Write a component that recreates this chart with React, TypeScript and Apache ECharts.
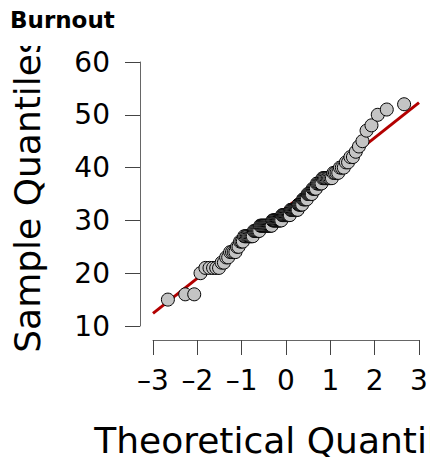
import React, { useEffect, useRef } from "react";
import * as echarts from "echarts";

const chartTitle = "Burnout";
const xAxisName = "Theoretical Quantiles";
const yAxisName = "Sample Quantiles";

const xTicks = [-3, -2, -1, 0, 1, 2, 3];
const yTicks = [10, 20, 30, 40, 50, 60];

// theoretical quantiles (x) of each point
const theoretical = [
  -2.664, -2.273, -2.07, -1.928, -1.817, -1.725, -1.645, -1.574, -1.51, -1.453,
  -1.4, -1.35, -1.304, -1.26, -1.218, -1.179, -1.141, -1.105, -1.07, -1.036,
  -1.004, -0.973, -0.942, -0.913, -0.883, -0.856, -0.828, -0.801, -0.775, -0.749,
  -0.724, -0.699, -0.674, -0.65, -0.627, -0.603, -0.581, -0.558, -0.536, -0.513,
  -0.491, -0.47, -0.448, -0.427, -0.406, -0.385, -0.365, -0.344, -0.324, -0.303,
  -0.283, -0.263, -0.243, -0.224, -0.204, -0.184, -0.165, -0.145, -0.126, -0.106,
  -0.087, -0.068, -0.048, -0.029, -0.01,
  0.01, 0.029, 0.048, 0.068, 0.087, 0.106, 0.126, 0.145, 0.165, 0.184,
  0.204, 0.224, 0.243, 0.263, 0.283, 0.303, 0.324, 0.344, 0.365, 0.385,
  0.406, 0.427, 0.448, 0.47, 0.491, 0.513, 0.536, 0.558, 0.581, 0.603,
  0.627, 0.65, 0.674, 0.699, 0.724, 0.749, 0.775, 0.801, 0.828, 0.856,
  0.883, 0.913, 0.942, 0.973, 1.004, 1.036, 1.07, 1.105, 1.141, 1.179,
  1.218, 1.26, 1.304, 1.35, 1.4, 1.453, 1.51, 1.574, 1.645, 1.725,
  1.817, 1.928, 2.07, 2.273, 2.664,
];

// sample quantiles (y)
const sample = [
  15, 16, 16, 20, 21, 21, 21, 21, 21, 22,
  22, 23, 23, 24, 24, 24, 24, 25, 25, 26,
  26, 26, 27, 27, 27, 27, 27, 27, 27, 27,
  28, 28, 28, 28, 28, 28, 29, 29, 29, 29,
  29, 29, 29, 29, 29, 29, 29, 29, 29, 30,
  30, 30, 30, 30, 30, 30, 30, 30, 30, 30,
  31, 31, 31, 31, 31, 31, 31, 31, 31, 31,
  32, 32, 32, 32, 32, 32, 32, 32, 32, 33,
  33, 33, 33, 33, 34, 34, 34, 34, 34, 35,
  35, 35, 35, 35, 36, 36, 36, 36, 37, 37,
  37, 37, 37, 38, 38, 38, 38, 38, 38, 38,
  38, 39, 39, 39, 39, 40, 40, 40, 41, 41,
  42, 42, 43, 44, 45, 47, 48, 50, 51, 52,
];

// reference line end points
const lineX = [-3, 3];
const lineY = [12.4, 52.3];

const FONT = "DejaVu Sans";

export default function App() {
  const ref = useRef<HTMLDivElement>(null);
  useEffect(() => {
    document.body.style.margin = "0";
    if (!ref.current) return;
    const chart = echarts.init(ref.current, undefined, { renderer: "svg" });
    const points = theoretical.map((x, i) => [x, sample[i]]);
    const lineData = lineX.map((x, i) => [x, lineY[i]]);
    chart.setOption({
      animation: false,
      grid: {
        left: 153,
        right: 11,
        top: 62,
        bottom: 131,
        outerBoundsMode: "none",
        containLabel: false,
      },
      xAxis: {
        type: "value",
        min: xTicks[0],
        max: xTicks[xTicks.length - 1],
        interval: 1,
        offset: 14,
        name: xAxisName,
        nameLocation: "middle",
        nameGap: 82,
        nameTextStyle: { fontFamily: FONT, fontSize: 36, color: "#000" },
        axisLine: { show: true, onZero: false, lineStyle: { color: "#666", width: 1 } },
        axisTick: { show: true, inside: false, length: 15, lineStyle: { color: "#444", width: 1 } },
        axisLabel: {
          fontFamily: FONT,
          fontSize: 28,
          color: "#000",
          margin: 26,
          formatter: (v: number) => (v < 0 ? "\u2013" + Math.abs(v) : String(v)),
        },
        splitLine: { show: false },
      },
      yAxis: {
        type: "value",
        min: yTicks[0],
        max: yTicks[yTicks.length - 1],
        interval: 10,
        offset: 13,
        name: yAxisName,
        nameLocation: "middle",
        nameGap: 95,
        nameRotate: 90,
        nameTextStyle: { fontFamily: FONT, fontSize: 36, color: "#000" },
        axisLine: { show: true, onZero: false, lineStyle: { color: "#666", width: 1 } },
        axisTick: { show: true, inside: false, length: 15, lineStyle: { color: "#444", width: 1 } },
        axisLabel: { fontFamily: FONT, fontSize: 28, color: "#000", margin: 30 },
        splitLine: { show: false },
      },
      graphic: [
        { type: "rect", shape: { x: 0, y: 0, width: 66, height: 46 }, style: { fill: "#fff" }, z: 100 },
        {
          type: "text",
          x: 10,
          y: 8,
          z: 101,
          style: { text: chartTitle, fontFamily: FONT, fontSize: 23, fontWeight: "bold", fill: "#000" },
        },
      ],
      series: [
        {
          type: "line",
          data: lineData,
          symbol: "none",
          clip: false,
          lineStyle: { color: "#b30000", width: 3 },
          z: 2,
        },
        {
          type: "scatter",
          data: points,
          symbol: "circle",
          symbolSize: 13,
          clip: false,
          itemStyle: { color: "#c4c4c4", borderColor: "#000", borderWidth: 1, opacity: 1 },
          z: 3,
        },
      ],
    });
    return () => chart.dispose();
  }, []);
  return <div ref={ref} style={{ width: 430, height: 457 }} />;
}
